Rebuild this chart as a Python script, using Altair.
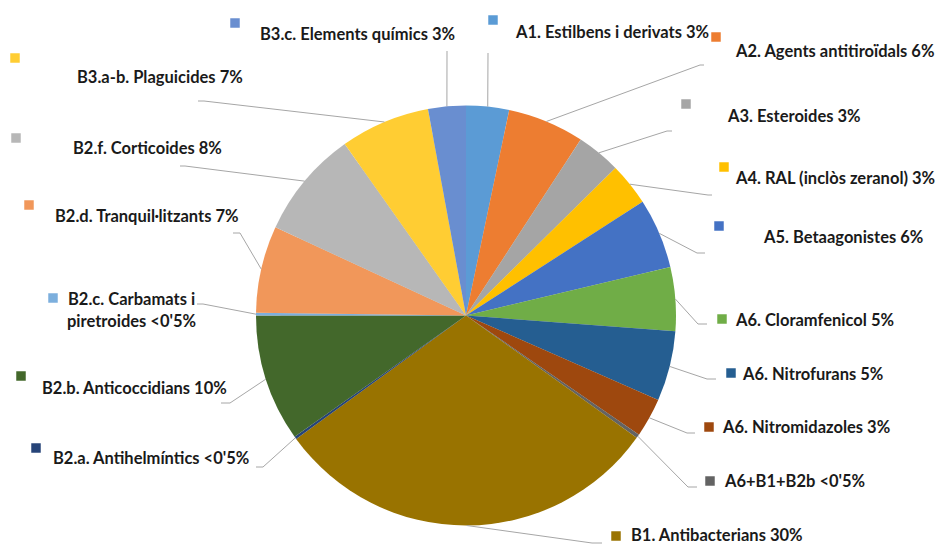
import math
import altair as alt
import pandas as pd

# ---- data ----
labels = [
    "A1. Estilbens i derivats 3%",
    "A2. Agents antitiroïdals 6%",
    "A3. Esteroides 3%",
    "A4. RAL (inclòs zeranol) 3%",
    "A5. Betaagonistes 6%",
    "A6. Cloramfenicol 5%",
    "A6. Nitrofurans 5%",
    "A6. Nitromidazoles 3%",
    "A6+B1+B2b <0'5%",
    "B1. Antibacterians 30%",
    "B2.a. Antihelmíntics <0'5%",
    "B2.b. Anticoccidians 10%",
    "B2.c. Carbamats i\npiretroides <0'5%",
    "B2.d. Tranquil·litzants 7%",
    "B2.f. Corticoides 8%",
    "B3.a-b. Plaguicides 7%",
    "B3.c. Elements químics 3%",
]
values = [3.3, 5.9, 3.4, 3.3, 5.4, 4.9, 5.4, 3.0, 0.3, 30.1, 0.2, 9.8, 0.2, 6.7, 8.3, 6.9, 2.9]
colors = ["#5B9BD5", "#ED7D31", "#A5A5A5", "#FFC000", "#4472C4", "#70AD47", "#255E91",
          "#9E480E", "#636363", "#997300", "#264478", "#43682B", "#7CAFDD", "#F1975A",
          "#B7B7B7", "#FFCD33", "#698ED0"]

# ---- layout (page pixel coordinates) ----
marker_x = [493, 716, 686, 724, 719, 722, 731, 709, 710, 616, 36, 21, 53, 29, 16, 15, 235]
marker_y = [20, 37, 104, 167, 226, 319, 373, 427, 481, 536, 448, 376, 298, 205, 138, 58, 23]
text_x = [516, 736, 728, 736, 764, 736, 743, 723, 725, 631, 53, 42, 68, 55, 73, 77, 260]
text_y = [33, 52, 117, 179, 238, 321, 375, 428, 482, 536, 459, 389, 300, 217, 149, 78, 35]
bend_x = [488, 700, 667, 708, 697, 698, 707, 687, 688, 592, 263, 230, 203, 240, 185, 204, 447]
bend_y = [53, 65, 131, 195, 253, 324, 379, 433, 487, 543, 467, 403, 304, 233, 166, 101, 51]
end_x = [488, 704, 672, 712, 705, 707, 716, 695, 697, 602, 256, 221, 197, 233, 180, 198, 447]
end_y = bend_y
LINE_H = 22

CX, CY, R = 466, 315.5, 210
W, H = 931, 538
M = 8

total = sum(values)
pie_df = pd.DataFrame({"label": labels, "value": values, "idx": list(range(len(labels)))})

# leader lines: start at slice mid-angle on the rim
rows = []
cum = 0.0
for i, v in enumerate(values):
    mid = (cum + v / 2) / total * 2 * math.pi
    cum += v
    sx = CX + R * math.sin(mid)
    sy = CY - R * math.cos(mid)
    rows.append({"label": labels[i], "k": 0, "x": sx, "y": sy})
    rows.append({"label": labels[i], "k": 1, "x": bend_x[i], "y": bend_y[i]})
    rows.append({"label": labels[i], "k": 2, "x": end_x[i], "y": end_y[i]})
lines_df = pd.DataFrame(rows)

trows = []
for i, lab in enumerate(labels):
    for j, part in enumerate(lab.split("\n")):
        trows.append({"t": part, "x": text_x[i] - (1 if j else 0), "y": text_y[i] + j * LINE_H})
text_df = pd.DataFrame(trows)

mk_df = pd.DataFrame({"label": labels, "x": marker_x, "y": marker_y})

xs = alt.Scale(domain=[M, M + W], range=[0, W])
ys = alt.Scale(domain=[M, M + H], range=[0, H])
color = alt.Color("label:N", scale=alt.Scale(domain=labels, range=colors), legend=None)

shadow = alt.layer(*[
    alt.Chart(pd.DataFrame({"a": [0]})).mark_circle(
        size=math.pi * r * r, color="#000000", opacity=op, stroke=None
    ).encode(x=alt.value(CX - M + dx), y=alt.value(CY - M + dy))
    for r, op, dx, dy in [(214, 0.025, 2, 3), (212, 0.04, 2, 3), (210.5, 0.06, 1, 2)]
])

pie = alt.Chart(pie_df).mark_arc(outerRadius=R, stroke=None).encode(
    theta=alt.Theta("value:Q", stack=True),
    color=color,
    order=alt.Order("idx:Q"),
    x=alt.value(CX - M),
    y=alt.value(CY - M),
)

leaders = alt.Chart(lines_df).mark_line(color="#A6A6A6", strokeWidth=1, clip=False).encode(
    x=alt.X("x:Q", scale=xs, axis=None),
    y=alt.Y("y:Q", scale=ys, axis=None),
    detail="label:N",
    order="k:Q",
)

markers = alt.Chart(mk_df).mark_square(size=90, opacity=1, filled=True).encode(
    x=alt.X("x:Q", scale=xs, axis=None),
    y=alt.Y("y:Q", scale=ys, axis=None),
    color=color,
)

texts = alt.Chart(text_df).mark_text(
    align="left", baseline="middle", font="Lato", fontWeight="bold", fontSize=16.5, color="#1a1a1a"
).encode(
    x=alt.X("x:Q", scale=xs, axis=None),
    y=alt.Y("y:Q", scale=ys, axis=None),
    text="t:N",
)

chart = alt.layer(shadow, pie, leaders, markers, texts).properties(
    width=W, height=H, autosize=alt.AutoSizeParams(type="none"), padding=0
).configure_view(stroke=None)

chart.save("out.html", embed_options={"renderer": "svg", "actions": False})
